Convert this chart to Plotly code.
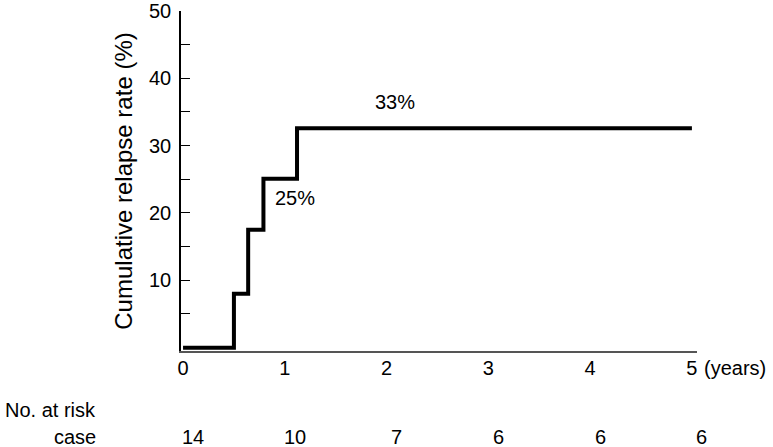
import plotly.graph_objects as go

# step curve: time (years) and cumulative relapse rate (%)
time_years = [0, 0.50, 0.64, 0.79, 1.12, 5.0]
relapse_pct = [0, 8.0, 17.5, 25.1, 32.6, 32.6]

x_ticks = [0, 1, 2, 3, 4, 5]
x_ticklabels = ["0", "1", "2", "3", "4", "5"]
y_ticks = [10, 20, 30, 40, 50]

risk_times = [0, 1, 2, 3, 4, 5]
risk_case = [14, 10, 7, 6, 6, 6]

labels_text = ["25%", "33%"]
labels_x = [1.10, 2.08]
labels_y = [22.2, 36.5]

FONT = "Liberation Sans, Arial, sans-serif"
FS = 20

fig = go.Figure()
fig.add_trace(go.Scatter(x=time_years, y=relapse_pct, mode="lines",
                         line=dict(color="black", width=4, shape="hv"),
                         showlegend=False, cliponaxis=False))

for t, xv, yv in zip(labels_text, labels_x, labels_y):
    fig.add_annotation(x=xv, y=yv, text=t, showarrow=False,
                       font=dict(size=FS, color="black"))

# "(years)" next to the last x tick
fig.add_annotation(x=5, y=-0.0495, yref="paper", text="(years)", showarrow=False,
                   xanchor="left", yanchor="middle", xshift=10,
                   font=dict(size=FS, color="black"))

# numbers at risk
fig.add_annotation(x=0, xref="paper", xshift=-83, y=-0.174, yref="paper",
                   text="No. at risk", showarrow=False, xanchor="right",
                   yanchor="middle", font=dict(size=FS, color="black"))
fig.add_annotation(x=0, xref="paper", xshift=-83, y=-0.253, yref="paper",
                   text="case", showarrow=False, xanchor="right",
                   yanchor="middle", font=dict(size=FS, color="black"))
for t, n in zip(risk_times, risk_case):
    fig.add_annotation(x=t, y=-0.253, yref="paper", text=str(n), showarrow=False,
                       xshift=10, yanchor="middle", font=dict(size=FS, color="black"))

fig.update_layout(
    width=773, height=447,
    margin=dict(l=181, r=76, t=11, b=96, autoexpand=False),
    plot_bgcolor="white", paper_bgcolor="white",
    font=dict(family=FONT, size=FS, color="black"),
)
fig.update_xaxes(range=[-0.02, 5.05], tickvals=x_ticks, ticktext=x_ticklabels,
                 showgrid=False, zeroline=False, showline=True, automargin=False,
                 linecolor="#555555", linewidth=1.5, ticks="", ticklabelstandoff=-2)
fig.update_yaxes(range=[-0.5, 50.0], tickvals=y_ticks, showgrid=False, zeroline=False,
                 showline=True, linecolor="black", linewidth=1.5, automargin=False,
                 ticks="inside", ticklen=9, tickcolor="black",
                 ticklabeloverflow="allow", ticklabelstandoff=4,
                 minor=dict(tickvals=[5, 15, 25, 35, 45], ticks="inside",
                            ticklen=9, tickcolor="black"),
                 title=dict(text="Cumulative relapse rate (%)", standoff=10))

# page body has a default margin; drop it so the figure fills the window
fig.write_html("out.html", config={"displayModeBar": False},
               post_script="document.body.style.margin='0';")
